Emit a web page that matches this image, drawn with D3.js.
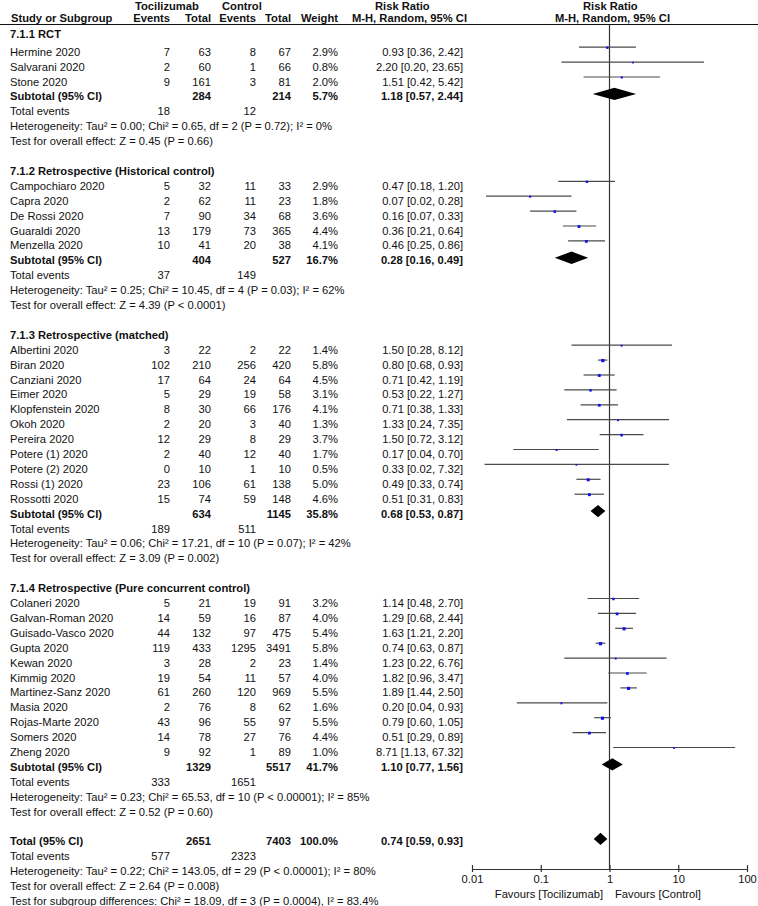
<!DOCTYPE html>
<html><head><meta charset="utf-8">
<script src="https://cdn.jsdelivr.net/npm/d3@7"></script>
<style>
body{margin:0;background:#fff}
svg{display:block;font-family:"Liberation Sans",Arial,sans-serif;font-size:11.2px;fill:#111}
</style>
</head><body><svg id="c" width="758" height="906"></svg>
<script>
// ---------- data ----------
const groupNames = ["7.1.1 RCT", "7.1.2 Retrospective (Historical control)", "7.1.3 Retrospective (matched)", "7.1.4 Retrospective (Pure concurrent control)"];
const studyNames = ["Hermine 2020","Salvarani 2020","Stone 2020",
  "Campochiaro 2020","Capra 2020","De Rossi 2020","Guaraldi 2020","Menzella 2020",
  "Albertini 2020","Biran 2020","Canziani 2020","Eimer 2020","Klopfenstein 2020","Okoh 2020","Pereira 2020","Potere (1) 2020","Potere (2) 2020","Rossi (1) 2020","Rossotti 2020",
  "Colaneri 2020","Galvan-Roman 2020","Guisado-Vasco 2020","Gupta 2020","Kewan 2020","Kimmig 2020","Martinez-Sanz 2020","Masia 2020","Rojas-Marte 2020","Somers 2020","Zheng 2020"];
const studyGroup = [0,0,0, 1,1,1,1,1, 2,2,2,2,2,2,2,2,2,2,2, 3,3,3,3,3,3,3,3,3,3,3];
const tociEvents = [7,2,9, 5,2,7,13,10, 3,102,17,5,8,2,12,2,0,23,15, 5,14,44,119,3,19,61,2,43,14,9];
const tociTotal  = [63,60,161, 32,62,90,179,41, 22,210,64,29,30,20,29,40,10,106,74, 21,59,132,433,28,54,260,76,96,78,92];
const ctrlEvents = [8,1,3, 11,11,34,73,20, 2,256,24,19,66,3,8,12,1,61,59, 19,16,97,1295,2,11,120,8,55,27,1];
const ctrlTotal  = [67,66,81, 33,23,68,365,38, 22,420,64,58,176,40,29,40,10,138,148, 91,87,475,3491,23,57,969,62,97,76,89];
const weight     = [2.9,0.8,2.0, 2.9,1.8,3.6,4.4,4.1, 1.4,5.8,4.5,3.1,4.1,1.3,3.7,1.7,0.5,5.0,4.6, 3.2,4.0,5.4,5.8,1.4,4.0,5.5,1.6,5.5,4.4,1.0];
const rr         = [0.93,2.20,1.51, 0.47,0.07,0.16,0.36,0.46, 1.50,0.80,0.71,0.53,0.71,1.33,1.50,0.17,0.33,0.49,0.51, 1.14,1.29,1.63,0.74,1.23,1.82,1.89,0.20,0.79,0.51,8.71];
const ciLow      = [0.36,0.20,0.42, 0.18,0.016,0.07,0.21,0.25, 0.28,0.68,0.42,0.22,0.38,0.24,0.72,0.04,0.0152,0.33,0.31, 0.48,0.68,1.21,0.63,0.22,0.96,1.44,0.0449,0.60,0.29,1.13];
const ciHigh     = [2.42,23.65,5.42, 1.20,0.28,0.33,0.64,0.86, 8.12,0.93,1.19,1.27,1.33,7.35,3.12,0.70,7.32,0.74,0.83, 2.70,2.44,2.20,0.87,6.76,3.47,2.50,0.93,1.05,0.89,67.32];

const subTociTotal  = [284,404,634,1329];
const subCtrlTotal  = [214,527,1145,5517];
const subWeight     = [5.7,16.7,35.8,41.7];
const subRR         = [1.18,0.28,0.68,1.10];
const subLow        = [0.57,0.16,0.53,0.77];
const subHigh       = [2.44,0.49,0.87,1.56];
const subTociEvents = [18,37,189,333];
const subCtrlEvents = [12,149,511,1651];
const subHetero = [
  "Heterogeneity: Tau\u00b2 = 0.00; Chi\u00b2 = 0.65, df = 2 (P = 0.72); I\u00b2 = 0%",
  "Heterogeneity: Tau\u00b2 = 0.25; Chi\u00b2 = 10.45, df = 4 (P = 0.03); I\u00b2 = 62%",
  "Heterogeneity: Tau\u00b2 = 0.06; Chi\u00b2 = 17.21, df = 10 (P = 0.07); I\u00b2 = 42%",
  "Heterogeneity: Tau\u00b2 = 0.23; Chi\u00b2 = 65.53, df = 10 (P < 0.00001); I\u00b2 = 85%"];
const subTest = [
  "Test for overall effect: Z = 0.45 (P = 0.66)",
  "Test for overall effect: Z = 4.39 (P < 0.0001)",
  "Test for overall effect: Z = 3.09 (P = 0.002)",
  "Test for overall effect: Z = 0.52 (P = 0.60)"];

const totalTociTotal = 2651, totalCtrlTotal = 7403, totalWeight = 100.0;
const totalRR = 0.74, totalLow = 0.59, totalHigh = 0.93;
const totalTociEvents = 577, totalCtrlEvents = 2323;
const totalLines = [
  "Heterogeneity: Tau\u00b2 = 0.22; Chi\u00b2 = 143.05, df = 29 (P < 0.00001); I\u00b2 = 80%",
  "Test for overall effect: Z = 2.64 (P = 0.008)",
  "Test for subgroup differences: Chi\u00b2 = 18.09, df = 3 (P = 0.0004), I\u00b2 = 83.4%"];

const tickValues = [0.01, 0.1, 1, 10, 100];
const tickLabels = ["0.01", "0.1", "1", "10", "100"];
const favourLeft = "Favours [Tocilizumab]", favourRight = "Favours [Control]";

// ---------- layout ----------
const svg = d3.select("#c");
const x = d3.scaleLog().domain([0.01, 100]).range([472, 747]);
const nRows = 58;
const yc = d3.scaleLinear().domain([0, nRows]).range([36.8, 36.8 + nRows * 14.9]);
const col = {name: 10, te: 170, tt: 211, ce: 256, ct: 291, w: 338, ci: 463};
const fmt2 = v => v.toFixed(2);
const ciText = (m, l, h) => `${fmt2(m)} [${fmt2(l)}, ${fmt2(h)}]`;

function txt(xp, yp, s, anchor = "start", bold = false) {
  svg.append("text").attr("x", xp).attr("y", yp).attr("text-anchor", anchor)
    .attr("font-weight", bold ? "bold" : null).text(s);
}
const base = r => yc(r) + 4;

// header
txt(135, 9.5, "Tocilizumab", "start", true);
txt(222, 9.5, "Control", "start", true);
txt(375, 9.5, "Risk Ratio", "start", true);
txt(583, 9.5, "Risk Ratio", "start", true);
txt(col.name + 1, 21.5, "Study or Subgroup", "start", true);
txt(col.te, 21.5, "Events", "end", true);
txt(col.tt, 21.5, "Total", "end", true);
txt(col.ce, 21.5, "Events", "end", true);
txt(col.ct, 21.5, "Total", "end", true);
txt(col.w, 21.5, "Weight", "end", true);
txt(352, 21.5, "M-H, Random, 95% CI", "start", true);
txt(555, 21.5, "M-H, Random, 95% CI", "start", true);
svg.append("line").attr("x1", 0).attr("x2", 758).attr("y1", 24.5).attr("y2", 24.5)
  .attr("stroke", "#111").attr("stroke-width", 1);

// null line
svg.append("line").attr("x1", x(1)).attr("x2", x(1)).attr("y1", 24.5).attr("y2", 869)
  .attr("stroke", "#333").attr("stroke-width", 1.2);

function diamond(r, m, l, h) {
  const cy = yc(r) - 2.5, hh = 6.2;
  svg.append("path")
    .attr("d", `M${x(l)},${cy}L${x(m)},${cy - hh}L${x(h)},${cy}L${x(m)},${cy + hh}Z`)
    .attr("fill", "#000");
}

let r = 0;
groupNames.forEach((g, gi) => {
  txt(col.name, base(r) - (gi === 0 ? 2.5 : 0), g, "start", true);
  r++;
  studyNames.forEach((s, i) => {
    if (studyGroup[i] !== gi) return;
    const b = base(r);
    txt(col.name, b, s);
    txt(col.te, b, tociEvents[i], "end");
    txt(col.tt, b, tociTotal[i], "end");
    txt(col.ce, b, ctrlEvents[i], "end");
    txt(col.ct, b, ctrlTotal[i], "end");
    txt(col.w, b, weight[i].toFixed(1) + "%", "end");
    txt(col.ci, b, ciText(rr[i], ciLow[i], ciHigh[i]), "end");
    const ly = yc(r) - 4.5;
    svg.append("line").attr("x1", x(ciLow[i])).attr("x2", x(ciHigh[i]))
      .attr("y1", ly).attr("y2", ly).attr("stroke", "#4a4a4a").attr("stroke-width", 1.2);
    const sz = 1.5 + weight[i] * 0.3;
    svg.append("rect").attr("x", x(rr[i]) - sz / 2).attr("y", ly + 0.5 - sz / 2)
      .attr("width", sz).attr("height", sz).attr("fill", "#1010ee");
    r++;
  });
  let b = base(r);
  txt(col.name, b, "Subtotal (95% CI)", "start", true);
  txt(col.tt, b, subTociTotal[gi], "end", true);
  txt(col.ct, b, subCtrlTotal[gi], "end", true);
  txt(col.w, b, subWeight[gi].toFixed(1) + "%", "end", true);
  txt(col.ci, b, ciText(subRR[gi], subLow[gi], subHigh[gi]), "end", true);
  diamond(r, subRR[gi], subLow[gi], subHigh[gi]);
  r++;
  b = base(r);
  txt(col.name, b, "Total events");
  txt(col.te, b, subTociEvents[gi], "end");
  txt(col.ce, b, subCtrlEvents[gi], "end");
  r++;
  txt(col.name, base(r), subHetero[gi]); r++;
  txt(col.name, base(r), subTest[gi]); r++;
  r++; // blank
});

// overall
let b = base(r);
txt(col.name, b, "Total (95% CI)", "start", true);
txt(col.tt, b, totalTociTotal, "end", true);
txt(col.ct, b, totalCtrlTotal, "end", true);
txt(col.w, b, totalWeight.toFixed(1) + "%", "end", true);
txt(col.ci, b, ciText(totalRR, totalLow, totalHigh), "end", true);
diamond(r, totalRR, totalLow, totalHigh);
r++;
b = base(r);
txt(col.name, b, "Total events");
txt(col.te, b, totalTociEvents, "end");
txt(col.ce, b, totalCtrlEvents, "end");
r++;
totalLines.forEach(s => { txt(col.name, base(r), s); r++; });

// axis
const ax = svg.append("g").attr("transform", "translate(0,869)")
  .call(d3.axisBottom(x).tickValues(tickValues).tickSizeInner(3).tickSizeOuter(0)
    .tickFormat((d, i) => tickLabels[i]));
ax.select(".domain").attr("stroke", "#333").attr("stroke-width", 1.2);
ax.selectAll(".tick line").attr("y1", -4).attr("stroke", "#333").attr("stroke-width", 1.2);
ax.selectAll(".tick text").attr("font-size", "11.2px").attr("font-family", "Liberation Sans, Arial, sans-serif").attr("fill", "#111");
txt(603, 898, favourLeft, "end");
txt(615, 898, favourRight, "start");
</script>
</body></html>
